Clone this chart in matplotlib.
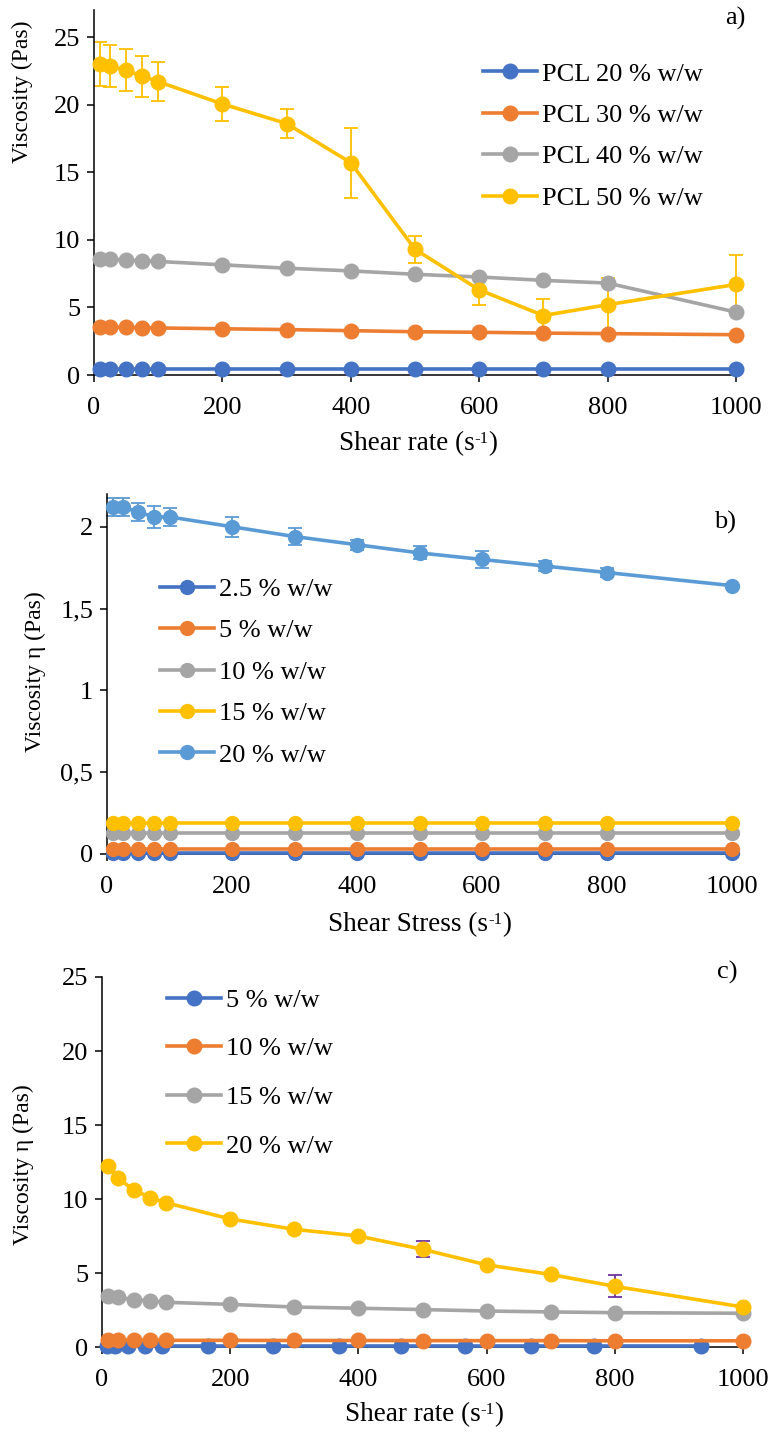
import matplotlib.pyplot as plt
from matplotlib.ticker import FuncFormatter
from matplotlib.offsetbox import TextArea, HPacker, AnnotationBbox

W, H = 774, 1437
plt.rcParams['font.family'] = ['Liberation Serif', 'DejaVu Serif']

BLUE = '#4472C4'
ORANGE = '#ED7D31'
GRAY = '#A5A5A5'
YELLOW = '#FFC000'
LIGHTBLUE = '#5B9BD5'
PURPLE = '#7030A0'

shear = [10, 25, 50, 75, 100, 200, 300, 400, 500, 600, 700, 800, 1000]

# a) PCL solutions
pcl_labels = ['PCL 20 % w/w', 'PCL 30 % w/w', 'PCL 40 % w/w', 'PCL 50 % w/w']
pcl_20 = [0.42, 0.42, 0.42, 0.42, 0.42, 0.42, 0.42, 0.42, 0.42, 0.42, 0.42, 0.42, 0.42]
pcl_30 = [3.55, 3.55, 3.52, 3.5, 3.48, 3.42, 3.36, 3.28, 3.2, 3.16, 3.1, 3.06, 2.98]
pcl_40 = [8.6, 8.55, 8.5, 8.45, 8.4, 8.15, 7.9, 7.7, 7.45, 7.25, 7.0, 6.8, 4.65]
pcl_50 = [23.0, 22.85, 22.55, 22.1, 21.7, 20.05, 18.6, 15.7, 9.3, 6.3, 4.4, 5.2, 6.7]
pcl_50_err = [1.6, 1.55, 1.55, 1.5, 1.45, 1.25, 1.1, 2.6, 1.0, 1.15, 1.2, 2.0, 2.2]

# b) second polymer
b_labels = ['2.5 % w/w', '5 % w/w', '10 % w/w', '15 % w/w', '20 % w/w']
b_2_5 = [0.005, 0.005, 0.005, 0.005, 0.005, 0.005, 0.005, 0.005, 0.005, 0.005, 0.005, 0.005, 0.005]
b_5 = [0.03, 0.03, 0.03, 0.03, 0.03, 0.03, 0.03, 0.03, 0.03, 0.03, 0.03, 0.03, 0.03]
b_10 = [0.13, 0.13, 0.13, 0.13, 0.13, 0.13, 0.13, 0.13, 0.13, 0.13, 0.13, 0.13, 0.13]
b_15 = [0.19, 0.19, 0.19, 0.19, 0.19, 0.19, 0.19, 0.19, 0.19, 0.19, 0.19, 0.19, 0.19]
b_20 = [2.12, 2.12, 2.09, 2.06, 2.06, 2.0, 1.94, 1.89, 1.84, 1.80, 1.76, 1.72, 1.64]
b_20_err = [0.055, 0.055, 0.055, 0.065, 0.055, 0.06, 0.05, 0.03, 0.04, 0.05, 0.03, 0.03, 0.01]

# c) third polymer
c_labels = ['5 % w/w', '10 % w/w', '15 % w/w', '20 % w/w']
c_x5 = [8, 20, 41, 67, 94, 166, 267, 369, 467, 567, 669, 767, 934]
c_5 = [0.05, 0.05, 0.05, 0.05, 0.05, 0.05, 0.05, 0.05, 0.05, 0.05, 0.05, 0.05, 0.05]
c_10 = [0.47, 0.47, 0.46, 0.46, 0.45, 0.45, 0.44, 0.44, 0.43, 0.43, 0.43, 0.42, 0.42]
c_15 = [3.45, 3.35, 3.2, 3.12, 3.02, 2.88, 2.7, 2.62, 2.53, 2.43, 2.37, 2.32, 2.28]
c_20 = [12.2, 11.4, 10.6, 10.1, 9.75, 8.65, 7.95, 7.5, 6.6, 5.55, 4.9, 4.1, 2.7]
c_20_err = [0, 0, 0, 0, 0, 0, 0, 0, 0.55, 0, 0, 0.75, 0]

LW = 2.6
MS = 10.5
FS = 19       # ticks and legends
FS_X = 19.5   # x axis titles
FS_Y = 17     # y axis titles


def fx(x):
    return x / W


def fy(y):
    return 1 - y / H


def add_axes(fig, left, right, top, bottom):
    return fig.add_axes([fx(left), fy(bottom), (right - left) / W, (bottom - top) / H])


def style(ax, ymax, ystep):
    for s in ['top', 'right']:
        ax.spines[s].set_visible(False)
    for s in ['left', 'bottom']:
        ax.spines[s].set_linewidth(1.1)
    ax.set_xlim(0, 1000)
    ax.set_ylim(0, ymax)
    ax.set_xticks(range(0, 1001, 200))
    ax.set_yticks([i * ystep for i in range(int(ymax / ystep + 1e-9) + 1)])
    ax.tick_params(direction='out', length=5, width=1.1, labelsize=FS)
    ax.tick_params(axis='x', pad=11)
    ax.tick_params(axis='y', pad=5)


def series(ax, x, y, color, ms=MS):
    line, = ax.plot(x, y, '-o', color=color, lw=LW, ms=ms, clip_on=False, zorder=3)
    return line


def errors(ax, x, y, err, color):
    xs = [a for a, e in zip(x, err) if e > 0]
    ys = [b for b, e in zip(y, err) if e > 0]
    es = [e for e in err if e > 0]
    ax.errorbar(xs, ys, yerr=es, fmt='none', ecolor=color, elinewidth=1.3,
                capsize=4.8, capthick=1.3, zorder=2.5, clip_on=False)


def legend(ax, fig, handles, labels, x, y, spacing):
    ax.legend(handles, labels, loc='center left', bbox_to_anchor=(fx(x), fy(y)),
              bbox_transform=fig.transFigure, frameon=False, fontsize=FS,
              handlelength=2.05, handletextpad=0.2, labelspacing=spacing,
              borderpad=0, borderaxespad=0)


def unit_label(fig, x, y, name):
    # "name (s-1)" with a small raised "-1"
    parts = [TextArea(name + ' (s', textprops=dict(fontsize=FS_X)),
             TextArea('-1', textprops=dict(fontsize=FS_X * 0.62)),
             TextArea(')', textprops=dict(fontsize=FS_X))]
    box = HPacker(children=parts, align='top', pad=0, sep=0)
    ab = AnnotationBbox(box, (fx(x), fy(y)), xycoords='figure fraction',
                        frameon=False, box_alignment=(0.5, 0.5), pad=0)
    fig.add_artist(ab)


fig = plt.figure(figsize=(W / 100, H / 100), dpi=100)

# panel a
ax = add_axes(fig, 94, 736, 10, 375)
style(ax, 27, 5)
h = [series(ax, shear, pcl_20, BLUE),
     series(ax, shear, pcl_30, ORANGE),
     series(ax, shear, pcl_40, GRAY)]
errors(ax, shear, pcl_50, pcl_50_err, YELLOW)
h.append(series(ax, shear, pcl_50, YELLOW))
legend(ax, fig, h, pcl_labels, 483, 136, 0.68)
fig.text(fx(22), fy(92), 'Viscosity (Pas)', rotation=90, ha='center', va='center', fontsize=FS_Y)
unit_label(fig, 418, 444, 'Shear rate')
fig.text(fx(735), fy(18), 'a)', ha='center', va='center', fontsize=FS)

# panel b
ax = add_axes(fig, 107, 732, 494, 854)
style(ax, 2.2, 0.5)
ax.yaxis.set_major_formatter(FuncFormatter(lambda v, _: f'{v:g}'.replace('.', ',')))
h = [series(ax, shear, b_2_5, BLUE, 10),
     series(ax, shear, b_5, ORANGE, 10),
     series(ax, shear, b_10, GRAY, 10),
     series(ax, shear, b_15, YELLOW, 10)]
errors(ax, shear, b_20, b_20_err, LIGHTBLUE)
h.append(series(ax, shear, b_20, LIGHTBLUE, 10))
legend(ax, fig, h, b_labels, 160, 672, 0.68)
fig.text(fx(35), fy(672), 'Viscosity η (Pas)', rotation=90, ha='center', va='center', fontsize=FS_Y)
unit_label(fig, 420, 925, 'Shear Stress')
fig.text(fx(725), fy(522), 'b)', ha='center', va='center', fontsize=FS)

# panel c
ax = add_axes(fig, 102, 743, 977, 1347)
style(ax, 25, 5)
h = [series(ax, c_x5, c_5, BLUE),
     series(ax, shear, c_10, ORANGE),
     series(ax, shear, c_15, GRAY)]
errors(ax, shear, c_20, c_20_err, PURPLE)
h.append(series(ax, shear, c_20, YELLOW))
legend(ax, fig, h, c_labels, 167, 1073, 0.95)
fig.text(fx(23), fy(1165), 'Viscosity η (Pas)', rotation=90, ha='center', va='center', fontsize=FS_Y)
unit_label(fig, 424, 1415, 'Shear rate')
fig.text(fx(727), fy(972), 'c)', ha='center', va='center', fontsize=FS)

fig.savefig('out.png', dpi=100)
